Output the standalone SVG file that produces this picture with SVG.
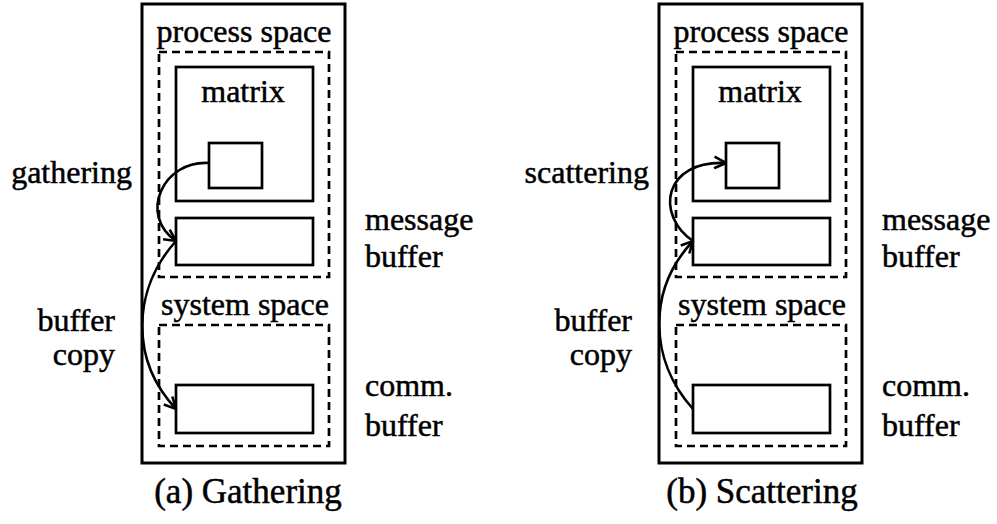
<svg xmlns="http://www.w3.org/2000/svg" width="997" height="524" viewBox="0 0 997 524">
  <style>
    .outer { fill: none; stroke: #000; stroke-width: 3; }
    .space { fill: none; stroke: #000; stroke-width: 2.7; stroke-dasharray: 8 5; }
    .box { fill: #fff; stroke: #000; stroke-width: 2.7; }
    .lbl { font-family: "Liberation Serif", "Times New Roman", serif; font-size: 32px; fill: #000; stroke: #000; stroke-width: 0.5; }
    .cap { font-size: 35px; }
    .mid { text-anchor: middle; }
    .end { text-anchor: end; }
    .flow { fill: none; stroke: #000; stroke-width: 2.6; }
  </style>
  <defs>
    <marker id="head" viewBox="0 0 12 12" refX="11" refY="6" markerWidth="14" markerHeight="14" markerUnits="userSpaceOnUse" orient="auto">
      <path d="M1,1 L11,6 L1,11" fill="none" stroke="#000" stroke-width="2.2"/>
    </marker>
  </defs>
  <rect width="997" height="524" fill="#fff"/>

  <!-- (a) Gathering -->
  <g id="gathering-panel">
    <rect class="outer" x="142" y="4" width="203" height="459"/>
    <g id="a-process-space">
      <rect class="space" x="159" y="52" width="170" height="225"/>
      <text class="lbl mid" x="244" y="42">process space</text>
    </g>
    <g id="a-matrix">
      <rect class="box" x="176" y="67" width="137" height="134"/>
      <text class="lbl mid" x="243" y="102">matrix</text>
    </g>
    <g id="a-block">
      <rect class="box" x="209" y="143" width="53" height="45"/>
    </g>
    <g id="a-message-buffer">
      <rect class="box" x="176" y="218" width="137" height="47"/>
      <text class="lbl" x="365" y="230">message</text>
      <text class="lbl" x="365" y="267">buffer</text>
    </g>
    <g id="a-system-space">
      <rect class="space" x="159" y="325" width="170" height="121"/>
      <text class="lbl mid" x="245" y="315">system space</text>
    </g>
    <g id="a-comm-buffer">
      <rect class="box" x="176" y="385" width="137" height="48"/>
      <text class="lbl" x="365" y="396">comm.</text>
      <text class="lbl" x="365" y="436">buffer</text>
    </g>
    <text class="lbl end" x="132" y="183">gathering</text>
    <text class="lbl end" x="115" y="331">buffer</text>
    <text class="lbl end" x="115" y="365">copy</text>
    <text class="lbl cap mid" x="248" y="503">(a) Gathering</text>
  </g>

  <!-- (b) Scattering -->
  <g id="scattering-panel">
    <rect class="outer" x="659" y="4" width="203" height="459"/>
    <g id="b-process-space">
      <rect class="space" x="676" y="52" width="170" height="225"/>
      <text class="lbl mid" x="761" y="42">process space</text>
    </g>
    <g id="b-matrix">
      <rect class="box" x="693" y="67" width="137" height="134"/>
      <text class="lbl mid" x="760" y="102">matrix</text>
    </g>
    <g id="b-block">
      <rect class="box" x="726" y="143" width="53" height="45"/>
    </g>
    <g id="b-message-buffer">
      <rect class="box" x="693" y="218" width="137" height="47"/>
      <text class="lbl" x="882" y="230">message</text>
      <text class="lbl" x="882" y="267">buffer</text>
    </g>
    <g id="b-system-space">
      <rect class="space" x="676" y="325" width="170" height="121"/>
      <text class="lbl mid" x="762" y="315">system space</text>
    </g>
    <g id="b-comm-buffer">
      <rect class="box" x="693" y="385" width="137" height="48"/>
      <text class="lbl" x="882" y="396">comm.</text>
      <text class="lbl" x="882" y="436">buffer</text>
    </g>
    <text class="lbl end" x="649" y="183">scattering</text>
    <text class="lbl end" x="632" y="331">buffer</text>
    <text class="lbl end" x="632" y="365">copy</text>
    <text class="lbl cap mid" x="762" y="503">(b) Scattering</text>
  </g>

  <!-- connectors -->
  <g id="connectors">
    <path class="flow" d="M209,163 C163,160 138,215 176,241" marker-end="url(#head)"/>
    <path class="flow" d="M176,241 C132,290 130,360 176,409" marker-end="url(#head)"/>
    <path class="flow" d="M693,241 C655,215 663,160 726,163" marker-end="url(#head)"/>
    <path class="flow" d="M693,409 C649,360 647,290 693,241" marker-end="url(#head)"/>
  </g>
</svg>
